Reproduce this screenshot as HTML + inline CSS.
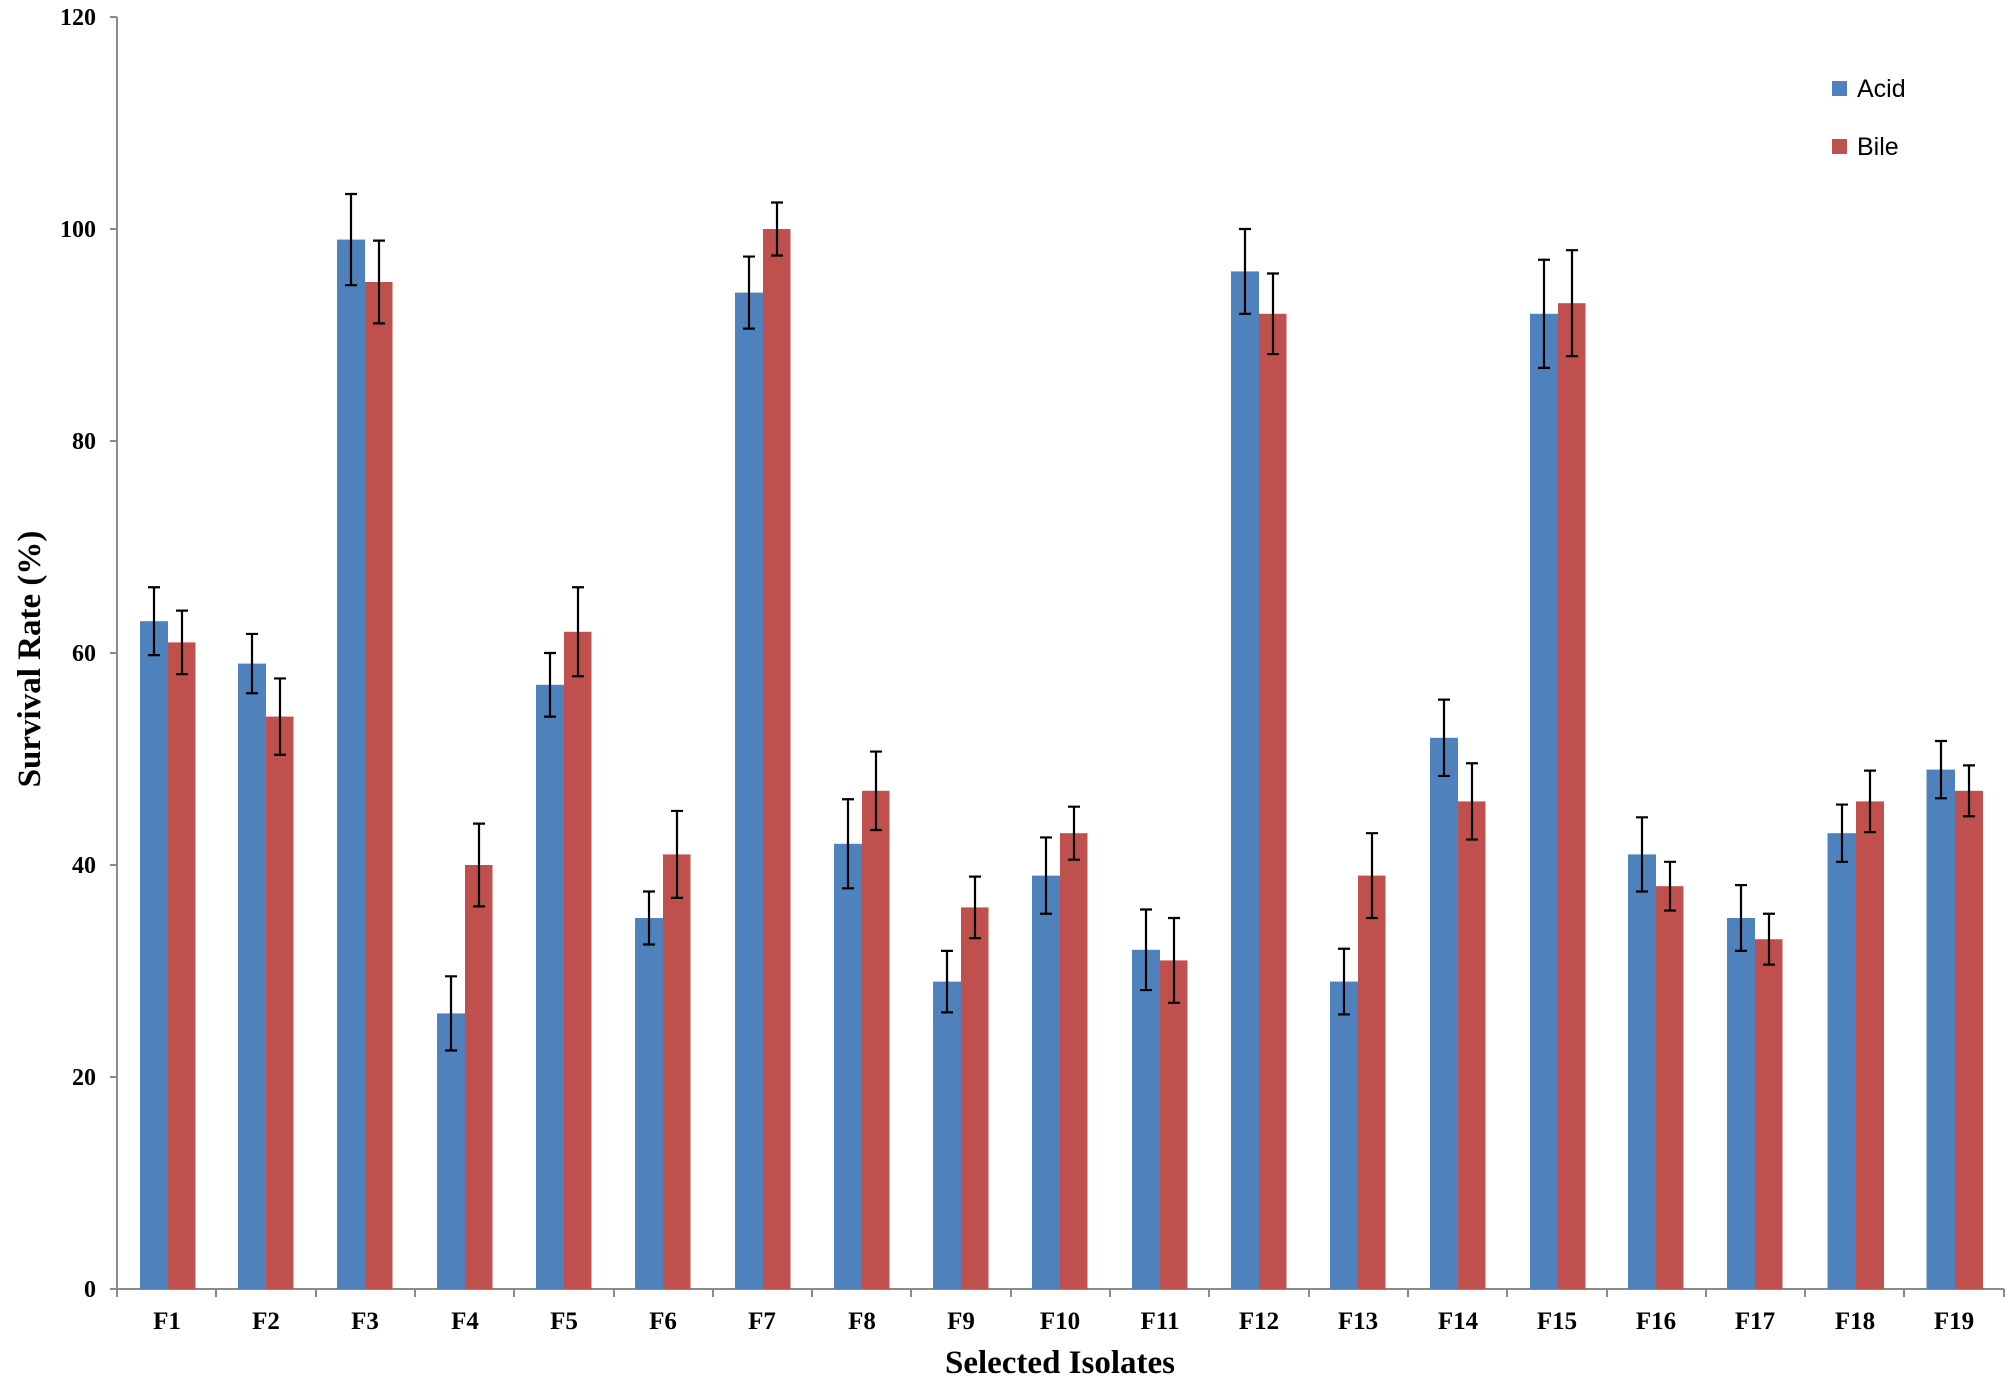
<!DOCTYPE html>
<html><head><meta charset="utf-8"><style>html,body{margin:0;padding:0;background:#fff}svg{display:block}</style></head>
<body>
<svg width="2007" height="1380" xmlns="http://www.w3.org/2000/svg">
<rect width="2007" height="1380" fill="#fff"/>
<g fill="none" stroke="#8a8a8a" stroke-width="2">
<path d="M117 17V1289H2004"/>
<path d="M110 17H117M110 229H117M110 441H117M110 653H117M110 865H117M110 1077H117M110 1289H117"/>
<path d="M117 1289v8M216 1289v8M316 1289v8M415 1289v8M514 1289v8M614 1289v8M713 1289v8M812 1289v8M911 1289v8M1011 1289v8M1110 1289v8M1209 1289v8M1309 1289v8M1408 1289v8M1507 1289v8M1607 1289v8M1706 1289v8M1805 1289v8M1904 1289v8M2004 1289v8"/>
</g>
<g font-family="Liberation Serif, serif" font-weight="bold" font-size="24" fill="#000" text-anchor="end">
<text x="96" y="25">120</text><text x="96" y="237">100</text><text x="96" y="449">80</text><text x="96" y="661">60</text><text x="96" y="873">40</text><text x="96" y="1085">20</text><text x="96" y="1297">0</text>
</g>
<g font-family="Liberation Serif, serif" font-weight="bold" font-size="25" fill="#000" text-anchor="middle">
<text x="167" y="1329">F1</text><text x="266" y="1329">F2</text><text x="365" y="1329">F3</text><text x="465" y="1329">F4</text><text x="564" y="1329">F5</text><text x="663" y="1329">F6</text><text x="762" y="1329">F7</text><text x="862" y="1329">F8</text><text x="961" y="1329">F9</text><text x="1060" y="1329">F10</text><text x="1160" y="1329">F11</text><text x="1259" y="1329">F12</text><text x="1358" y="1329">F13</text><text x="1458" y="1329">F14</text><text x="1557" y="1329">F15</text><text x="1656" y="1329">F16</text><text x="1755" y="1329">F17</text><text x="1855" y="1329">F18</text><text x="1954" y="1329">F19</text>
<text x="1060" y="1373" font-size="33">Selected Isolates</text>
<text transform="translate(40,659) rotate(-90)" font-size="33">Survival  Rate (%)</text>
</g>
<rect x="1832" y="81" width="15" height="15" fill="#4f81bd"/>
<rect x="1832" y="139" width="15" height="15" fill="#c0504d"/>
<g font-family="Liberation Sans, sans-serif" font-size="25" fill="#000">
<text x="1857" y="97">Acid</text><text x="1857" y="155">Bile</text>
</g>
<defs><style>.b{fill:#4f81bd}.r{fill:#c0504d}.e{fill:none;stroke:#000;stroke-width:2.2}</style></defs>
<g transform="translate(168,1289) scale(1,-10.6)"><rect class="b" x="-28" y="0" width="28" height="63"/><rect class="r" x="0" y="0" width="27.5" height="61"/><path class="e" vector-effect="non-scaling-stroke" d="M-14 59.8V66.2M-20 59.8H-8M-20 66.2H-8M14 58V64M8 58H20M8 64H20"/></g>
<g transform="translate(266,1289) scale(1,-10.6)"><rect class="b" x="-28" y="0" width="28" height="59"/><rect class="r" x="0" y="0" width="27.5" height="54"/><path class="e" vector-effect="non-scaling-stroke" d="M-14 56.2V61.8M-20 56.2H-8M-20 61.8H-8M14 50.4V57.6M8 50.4H20M8 57.6H20"/></g>
<g transform="translate(365,1289) scale(1,-10.6)"><rect class="b" x="-28" y="0" width="28" height="99"/><rect class="r" x="0" y="0" width="27.5" height="95"/><path class="e" vector-effect="non-scaling-stroke" d="M-14 94.7V103.3M-20 94.7H-8M-20 103.3H-8M14 91.1V98.9M8 91.1H20M8 98.9H20"/></g>
<g transform="translate(465,1289) scale(1,-10.6)"><rect class="b" x="-28" y="0" width="28" height="26"/><rect class="r" x="0" y="0" width="27.5" height="40"/><path class="e" vector-effect="non-scaling-stroke" d="M-14 22.5V29.5M-20 22.5H-8M-20 29.5H-8M14 36.1V43.9M8 36.1H20M8 43.9H20"/></g>
<g transform="translate(564,1289) scale(1,-10.6)"><rect class="b" x="-28" y="0" width="28" height="57"/><rect class="r" x="0" y="0" width="27.5" height="62"/><path class="e" vector-effect="non-scaling-stroke" d="M-14 54V60M-20 54H-8M-20 60H-8M14 57.8V66.2M8 57.8H20M8 66.2H20"/></g>
<g transform="translate(663,1289) scale(1,-10.6)"><rect class="b" x="-28" y="0" width="28" height="35"/><rect class="r" x="0" y="0" width="27.5" height="41"/><path class="e" vector-effect="non-scaling-stroke" d="M-14 32.5V37.5M-20 32.5H-8M-20 37.5H-8M14 36.9V45.1M8 36.9H20M8 45.1H20"/></g>
<g transform="translate(763,1289) scale(1,-10.6)"><rect class="b" x="-28" y="0" width="28" height="94"/><rect class="r" x="0" y="0" width="27.5" height="100"/><path class="e" vector-effect="non-scaling-stroke" d="M-14 90.6V97.4M-20 90.6H-8M-20 97.4H-8M14 97.5V102.5M8 97.5H20M8 102.5H20"/></g>
<g transform="translate(862,1289) scale(1,-10.6)"><rect class="b" x="-28" y="0" width="28" height="42"/><rect class="r" x="0" y="0" width="27.5" height="47"/><path class="e" vector-effect="non-scaling-stroke" d="M-14 37.8V46.2M-20 37.8H-8M-20 46.2H-8M14 43.3V50.7M8 43.3H20M8 50.7H20"/></g>
<g transform="translate(961,1289) scale(1,-10.6)"><rect class="b" x="-28" y="0" width="28" height="29"/><rect class="r" x="0" y="0" width="27.5" height="36"/><path class="e" vector-effect="non-scaling-stroke" d="M-14 26.1V31.9M-20 26.1H-8M-20 31.9H-8M14 33.1V38.9M8 33.1H20M8 38.9H20"/></g>
<g transform="translate(1060,1289) scale(1,-10.6)"><rect class="b" x="-28" y="0" width="28" height="39"/><rect class="r" x="0" y="0" width="27.5" height="43"/><path class="e" vector-effect="non-scaling-stroke" d="M-14 35.4V42.6M-20 35.4H-8M-20 42.6H-8M14 40.5V45.5M8 40.5H20M8 45.5H20"/></g>
<g transform="translate(1160,1289) scale(1,-10.6)"><rect class="b" x="-28" y="0" width="28" height="32"/><rect class="r" x="0" y="0" width="27.5" height="31"/><path class="e" vector-effect="non-scaling-stroke" d="M-14 28.2V35.8M-20 28.2H-8M-20 35.8H-8M14 27V35M8 27H20M8 35H20"/></g>
<g transform="translate(1259,1289) scale(1,-10.6)"><rect class="b" x="-28" y="0" width="28" height="96"/><rect class="r" x="0" y="0" width="27.5" height="92"/><path class="e" vector-effect="non-scaling-stroke" d="M-14 92V100M-20 92H-8M-20 100H-8M14 88.2V95.8M8 88.2H20M8 95.8H20"/></g>
<g transform="translate(1358,1289) scale(1,-10.6)"><rect class="b" x="-28" y="0" width="28" height="29"/><rect class="r" x="0" y="0" width="27.5" height="39"/><path class="e" vector-effect="non-scaling-stroke" d="M-14 25.9V32.1M-20 25.9H-8M-20 32.1H-8M14 35V43M8 35H20M8 43H20"/></g>
<g transform="translate(1458,1289) scale(1,-10.6)"><rect class="b" x="-28" y="0" width="28" height="52"/><rect class="r" x="0" y="0" width="27.5" height="46"/><path class="e" vector-effect="non-scaling-stroke" d="M-14 48.4V55.6M-20 48.4H-8M-20 55.6H-8M14 42.4V49.6M8 42.4H20M8 49.6H20"/></g>
<g transform="translate(1558,1289) scale(1,-10.6)"><rect class="b" x="-28" y="0" width="28" height="92"/><rect class="r" x="0" y="0" width="27.5" height="93"/><path class="e" vector-effect="non-scaling-stroke" d="M-14 86.9V97.1M-20 86.9H-8M-20 97.1H-8M14 88V98M8 88H20M8 98H20"/></g>
<g transform="translate(1656,1289) scale(1,-10.6)"><rect class="b" x="-28" y="0" width="28" height="41"/><rect class="r" x="0" y="0" width="27.5" height="38"/><path class="e" vector-effect="non-scaling-stroke" d="M-14 37.5V44.5M-20 37.5H-8M-20 44.5H-8M14 35.7V40.3M8 35.7H20M8 40.3H20"/></g>
<g transform="translate(1755,1289) scale(1,-10.6)"><rect class="b" x="-28" y="0" width="28" height="35"/><rect class="r" x="0" y="0" width="27.5" height="33"/><path class="e" vector-effect="non-scaling-stroke" d="M-14 31.9V38.1M-20 31.9H-8M-20 38.1H-8M14 30.6V35.4M8 30.6H20M8 35.4H20"/></g>
<g transform="translate(1856,1289) scale(1,-10.6)"><rect class="b" x="-28.5" y="0" width="28.5" height="43"/><rect class="r" x="0" y="0" width="28" height="46"/><path class="e" vector-effect="non-scaling-stroke" d="M-14 40.3V45.7M-20 40.3H-8M-20 45.7H-8M14 43.1V48.9M8 43.1H20M8 48.9H20"/></g>
<g transform="translate(1955,1289) scale(1,-10.6)"><rect class="b" x="-28.5" y="0" width="28.5" height="49"/><rect class="r" x="0" y="0" width="28" height="47"/><path class="e" vector-effect="non-scaling-stroke" d="M-14 46.3V51.7M-20 46.3H-8M-20 51.7H-8M14 44.6V49.4M8 44.6H20M8 49.4H20"/></g>
</svg>
</body></html>
